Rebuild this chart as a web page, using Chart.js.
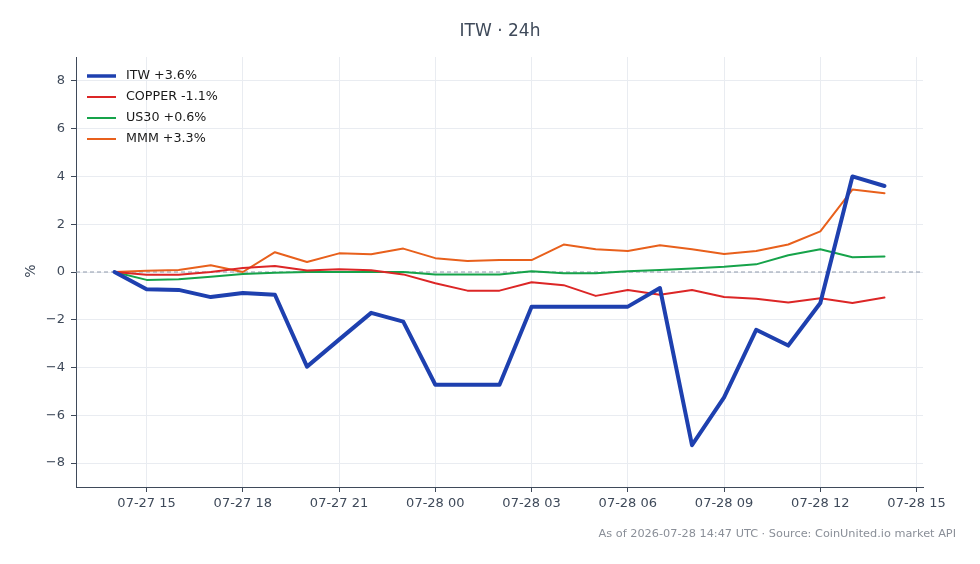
<!DOCTYPE html>
<html>
<head>
<meta charset="utf-8">
<script src="https://cdn.jsdelivr.net/npm/chart.js@4.4.1/dist/chart.umd.min.js"></script>
<style>
  html, body { margin: 0; padding: 0; background: #fff; }
  #wrap { width: 980px; height: 564px; }
</style>
</head>
<body>
<div id="wrap"><canvas id="c" width="980" height="564"></canvas></div>
<script>
// hourly samples, 07-27 14:00 .. 07-28 14:00 (hours counted from 07-27 00:00)
const hours = [14, 15, 16, 17, 18, 19, 20, 21, 22, 23, 24, 25, 26, 27, 28, 29, 30, 31, 32, 33, 34, 35, 36, 37, 38];

const itw    = [0, -0.72, -0.75, -1.05, -0.88, -0.95, -3.96, -2.83, -1.71, -2.08, -4.72, -4.72, -4.72, -1.45, -1.45, -1.45, -1.45, -0.67, -7.25, -5.25, -2.42, -3.08, -1.3, 4.0, 3.6];
const copper = [0, -0.12, -0.12, 0.0, 0.17, 0.25, 0.06, 0.12, 0.07, -0.1, -0.47, -0.78, -0.78, -0.43, -0.55, -1.0, -0.75, -0.95, -0.75, -1.05, -1.12, -1.28, -1.1, -1.3, -1.07];
const us30   = [0, -0.33, -0.3, -0.2, -0.08, -0.03, 0.0, 0.0, 0.0, 0.0, -0.1, -0.1, -0.1, 0.03, -0.05, -0.05, 0.03, 0.08, 0.15, 0.22, 0.32, 0.7, 0.95, 0.62, 0.65];
const mmm    = [0, 0.05, 0.08, 0.28, 0.0, 0.83, 0.42, 0.78, 0.74, 0.98, 0.58, 0.46, 0.5, 0.5, 1.15, 0.95, 0.88, 1.12, 0.95, 0.75, 0.88, 1.15, 1.7, 3.45, 3.3];

const seriesNames = ['ITW +3.6%', 'COPPER -1.1%', 'US30 +0.6%', 'MMM +3.3%'];
const xTicks = [15, 18, 21, 24, 27, 30, 33, 36, 39];
const yTicks = [-8, -6, -4, -2, 0, 2, 4, 6, 8];

const FONT = '"DejaVu Sans", sans-serif';
const TEXT = '#3f4a5a';

function fmtHour(h) {
  const day = h >= 24 ? '07-28' : '07-27';
  const hh = String(h % 24).padStart(2, '0');
  return day + ' ' + hh;
}

const pts = arr => arr.map((v, i) => ({ x: hours[i], y: v }));

const extras = {
  id: 'extras',
  beforeDatasetsDraw(chart) {
    const { ctx, chartArea: a, scales: { y } } = chart;
    const y0 = y.getPixelForValue(0);
    ctx.save();
    ctx.strokeStyle = '#8f99ab';
    ctx.lineWidth = 1;
    ctx.setLineDash([4, 3]);
    ctx.beginPath();
    ctx.moveTo(a.left, y0);
    ctx.lineTo(a.right, y0);
    ctx.stroke();
    ctx.restore();
  },
  afterDraw(chart) {
    const { ctx } = chart;
    ctx.save();
    ctx.fillStyle = TEXT;
    ctx.font = '17px ' + FONT;
    ctx.textAlign = 'center';
    ctx.textBaseline = 'middle';
    ctx.fillText('ITW · 24h', 500, 32);

    ctx.font = '14px ' + FONT;
    ctx.save();
    ctx.translate(31, 271);
    ctx.rotate(-Math.PI / 2);
    ctx.fillText('%', 0, 0);
    ctx.restore();

    ctx.fillStyle = '#8a8f98';
    ctx.font = '11.3px ' + FONT;
    ctx.textAlign = 'right';
    ctx.fillText('As of 2026-07-28 14:47 UTC · Source: CoinUnited.io market API', 956, 534);

    // legend
    ctx.textAlign = 'left';
    ctx.font = '12.7px ' + FONT;
    chart.data.datasets.forEach((ds, i) => {
      const ly = 76 + i * 21;
      ctx.strokeStyle = ds.borderColor;
      ctx.lineWidth = i === 0 ? 3.5 : 2;
      ctx.beginPath();
      ctx.moveTo(87, ly);
      ctx.lineTo(116, ly);
      ctx.stroke();
      ctx.fillStyle = '#1a1a1a';
      ctx.fillText(ds.label, 126, ly);
    });
    ctx.restore();
  }
};

new Chart(document.getElementById('c'), {
  type: 'line',
  data: {
    datasets: [
      { label: seriesNames[0], data: pts(itw), borderColor: '#1e40af', borderWidth: 4 },
      { label: seriesNames[1], data: pts(copper), borderColor: '#dc2626', borderWidth: 2 },
      { label: seriesNames[2], data: pts(us30), borderColor: '#16a34a', borderWidth: 2 },
      { label: seriesNames[3], data: pts(mmm), borderColor: '#e8601c', borderWidth: 2 }
    ]
  },
  options: {
    responsive: false,
    animation: false,
    devicePixelRatio: 1,
    layout: { padding: { top: 57, right: 57, left: 0, bottom: 0 } },
    elements: { point: { radius: 0 }, line: { tension: 0, borderJoinStyle: 'round', borderCapStyle: 'round' } },
    plugins: { legend: { display: false }, tooltip: { enabled: false } },
    scales: {
      x: {
        type: 'linear',
        min: 12.8,
        max: 39.2,
        afterBuildTicks: s => { s.ticks = xTicks.map(v => ({ value: v })); },
        afterFit: s => { s.height = 77; },
        ticks: { callback: v => fmtHour(v), color: TEXT, font: { family: FONT, size: 13 }, padding: 4, maxRotation: 0 },
        grid: { color: '#e9ecf1', tickColor: '#3f4a5a', tickLength: 5, drawTicks: true },
        border: { color: '#3f4a5a', width: 1 }
      },
      y: {
        min: -9,
        max: 9,
        afterBuildTicks: s => { s.ticks = yTicks.map(v => ({ value: v })); },
        afterFit: s => { s.width = 76; },
        ticks: { callback: v => (v < 0 ? '\u2212' + Math.abs(v) : String(v)), color: TEXT, font: { family: FONT, size: 13 }, padding: 6 },
        grid: { color: '#e9ecf1', tickColor: '#3f4a5a', tickLength: 5 },
        border: { color: '#3f4a5a', width: 1 }
      }
    }
  },
  plugins: [extras]
});
</script>
</body>
</html>
